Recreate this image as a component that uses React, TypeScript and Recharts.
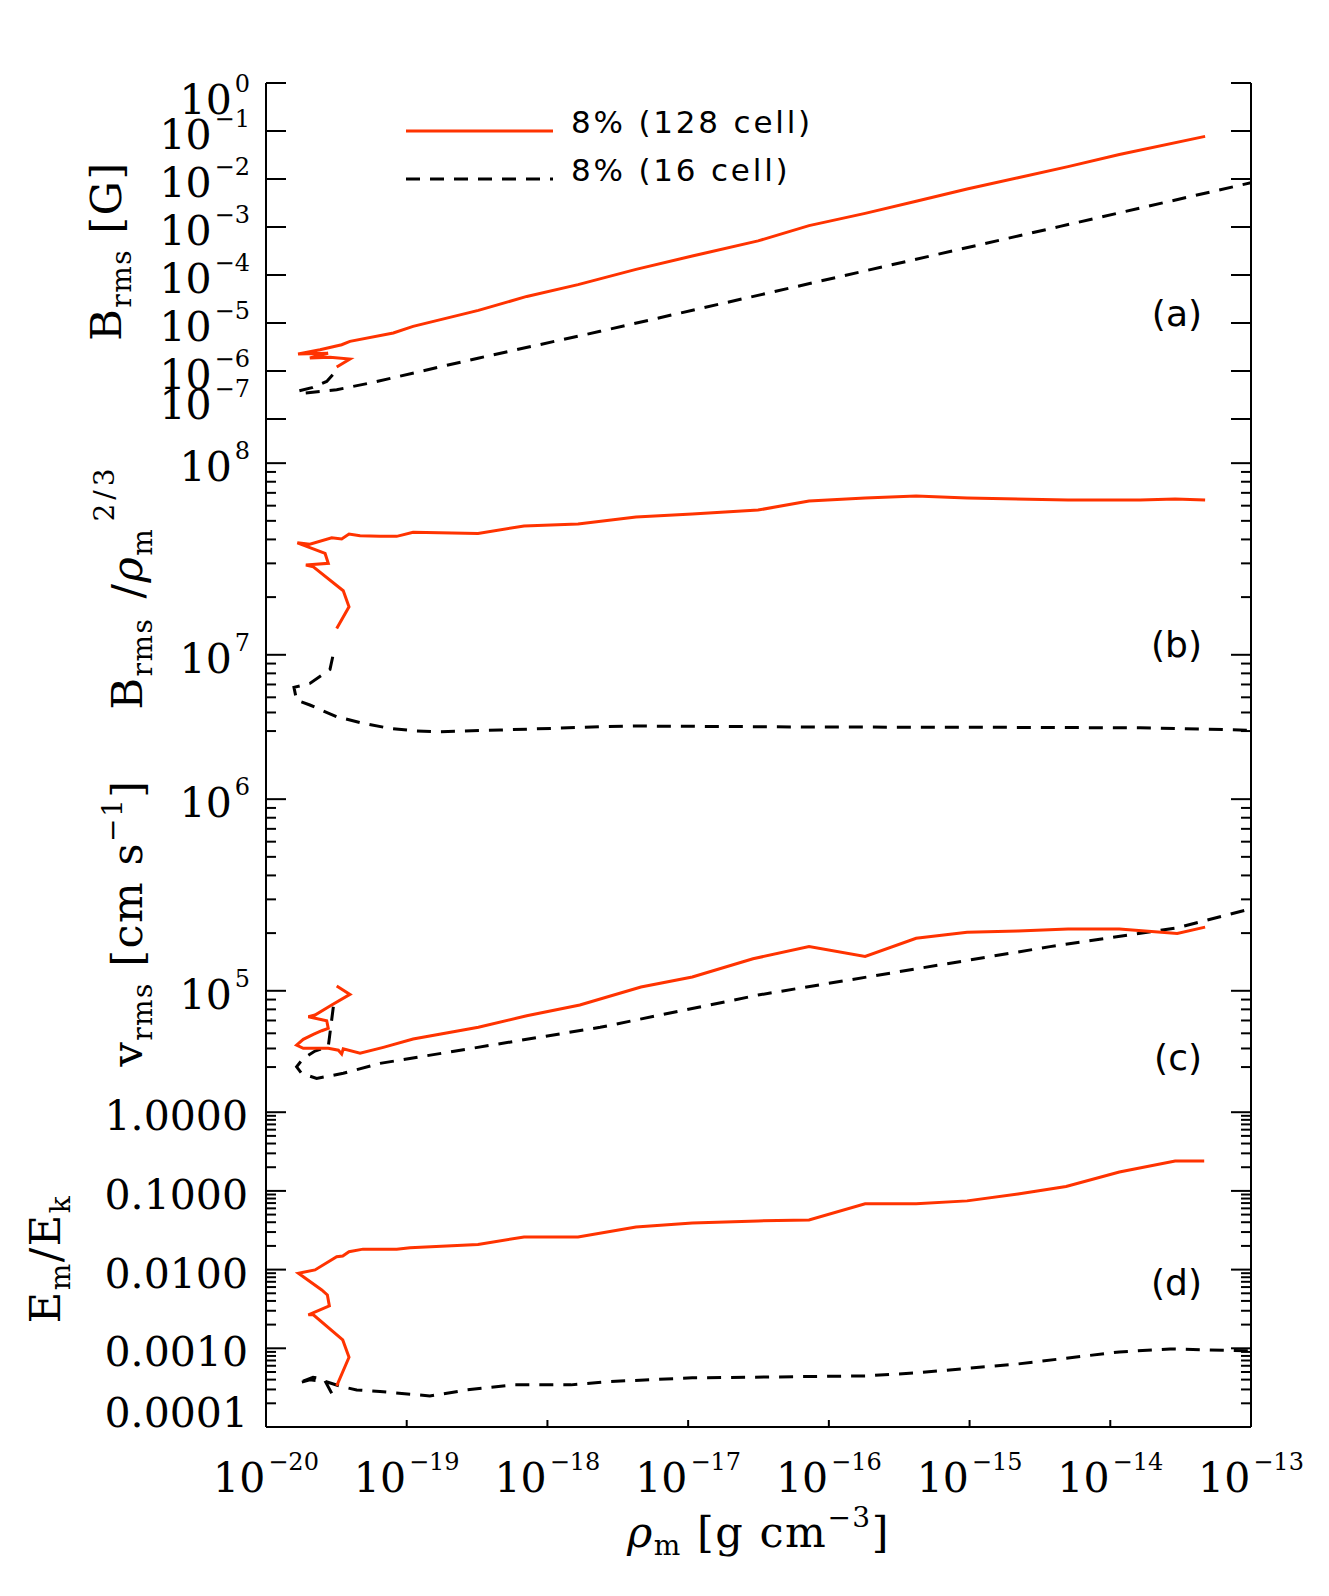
import React from "react";
import { LineChart, Line, XAxis, YAxis, Legend } from "recharts";

const RED = "#ff3300";
const DASH = "14 10";
const SERIF = "'DejaVu Serif', serif";
const SANS = "'DejaVu Sans', sans-serif";

const SERIES_128 = "8% (128 cell)";
const SERIES_16 = "8% (16 cell)";

const X_TICKS = [1e-20, 1e-19, 1e-18, 1e-17, 1e-16, 1e-15, 1e-14, 1e-13];
const X_DOMAIN = [1e-20, 1e-13];

// (a) B_rms [G]
const A_RHO_128 = [3.18e-20, 3.95e-20, 2.85e-20, 2.05e-20, 2.76e-20, 1.69e-20, 2.42e-20, 3.45e-20, 3.95e-20, 8.03e-20, 1.11e-19, 3.23e-19, 7.13e-19, 1.65e-18, 4.26e-18, 1.07e-17, 3.14e-17, 7.23e-17, 1.81e-16, 4.17e-16, 9.6e-16, 2.21e-15, 5.01e-15, 1.16e-14, 4.72e-14];
const A_VAL_128 = [1.21e-6, 1.78e-6, 1.94e-6, 1.87e-6, 2.35e-6, 2.26e-6, 2.78e-6, 3.53e-6, 4.14e-6, 6.19e-6, 8.5e-6, 1.83e-5, 3.58e-5, 6.31e-5, 1.31e-4, 2.48e-4, 5.13e-4, 1.07e-3, 1.92e-3, 3.45e-3, 6.19e-3, 1.06e-2, 1.81e-2, 3.25e-2, 7.72e-2];
const A_RHO_16 = [2.98e-20, 2.7e-20, 2.12e-20, 1.68e-20, 1.89e-20, 3.18e-20, 5.49e-20, 3.21e-19, 2.37e-18, 4.4e-15, 1e-13];
const A_VAL_16 = [8.38e-7, 6.07e-7, 4.49e-7, 3.79e-7, 3.48e-7, 4.07e-7, 5.62e-7, 1.85e-6, 6.71e-6, 1.03e-3, 8.37e-3];
const A_TICKS = [1e-7, 1e-6, 1e-5, 1e-4, 1e-3, 1e-2, 1e-1, 1];

// (b) B_rms / rho^(2/3)
const B_RHO_128 = [3.18e-20, 3.89e-20, 3.54e-20, 2.17e-20, 1.92e-20, 2.77e-20, 2.63e-20, 1.67e-20, 2.05e-20, 2.93e-20, 3.45e-20, 3.89e-20, 4.66e-20, 6.46e-20, 8.49e-20, 1.11e-19, 3.21e-19, 6.82e-19, 1.65e-18, 4.26e-18, 1.07e-17, 3.14e-17, 7.23e-17, 1.81e-16, 4.17e-16, 9.6e-16, 5.01e-15, 1.63e-14, 2.89e-14, 4.72e-14];
const B_VAL_128 = [1.37e7, 1.78e7, 2.16e7, 2.88e7, 2.94e7, 3.0e7, 3.38e7, 3.84e7, 3.78e7, 4.08e7, 4.02e7, 4.27e7, 4.18e7, 4.15e7, 4.15e7, 4.36e7, 4.3e7, 4.7e7, 4.81e7, 5.24e7, 5.43e7, 5.69e7, 6.34e7, 6.58e7, 6.74e7, 6.58e7, 6.42e7, 6.42e7, 6.5e7, 6.42e7];
const B_RHO_16 = [2.98e-20, 2.85e-20, 2.05e-20, 1.58e-20, 1.65e-20, 2.05e-20, 3.18e-20, 4.91e-20, 7.61e-20, 1.18e-19, 1.72e-19, 4.6e-19, 2.37e-18, 4.26e-18, 7.23e-17, 2.21e-15, 1.63e-14, 1e-13];
const B_VAL_16 = [9.77e6, 8.39e6, 7.09e6, 6.76e6, 5.8e6, 5.47e6, 4.75e6, 4.39e6, 4.13e6, 4.0e6, 3.97e6, 4.05e6, 4.21e6, 4.25e6, 4.2e6, 4.18e6, 4.16e6, 4.04e6];
const B_TICKS = [4e6, 5e6, 6e6, 7e6, 8e6, 9e6, 1e7, 2e7, 3e7, 4e7, 5e7, 6e7, 7e7, 8e7, 9e7, 1e8];

// (c) v_rms [cm s^-1]
const C_RHO_128 = [3.18e-20, 3.95e-20, 2.93e-20, 2.23e-20, 2.0e-20, 2.7e-20, 2.77e-20, 2.49e-20, 2.17e-20, 1.84e-20, 1.65e-20, 1.84e-20, 2.77e-20, 3.27e-20, 3.45e-20, 3.54e-20, 4.66e-20, 6.82e-20, 1.11e-19, 3.23e-19, 7.13e-19, 1.7e-18, 4.62e-18, 1.07e-17, 2.89e-17, 7.23e-17, 1.81e-16, 4.17e-16, 9.6e-16, 2.21e-15, 5.01e-15, 1.16e-14, 2.99e-14, 4.72e-14];
const C_VAL_128 = [1.06e5, 9.58e4, 8.43e4, 7.47e4, 7.32e4, 6.98e4, 6.37e4, 6.19e4, 5.93e4, 5.58e4, 5.21e4, 5.01e4, 5.01e4, 4.9e4, 4.68e4, 4.98e4, 4.72e4, 5.07e4, 5.6e4, 6.45e4, 7.41e4, 8.43e4, 1.046e5, 1.18e5, 1.47e5, 1.7e5, 1.51e5, 1.88e5, 2.02e5, 2.05e5, 2.1e5, 2.1e5, 1.99e5, 2.15e5];
const C_RHO_16 = [3.01e-20, 2.77e-20, 2.23e-20, 1.84e-20, 1.65e-20, 1.79e-20, 2.29e-20, 3.54e-20, 6.46e-20, 2.37e-18, 3.14e-17, 3.73e-15, 2.97e-14, 1e-13];
const C_VAL_16 = [8.25e4, 5.11e4, 4.85e4, 4.44e4, 4.01e4, 3.71e4, 3.49e4, 3.71e4, 4.18e4, 6.45e4, 9.5e4, 1.7e5, 2.13e5, 2.68e5];
const C_TICKS = [4e4, 5e4, 6e4, 7e4, 8e4, 9e4, 1e5, 2e5, 3e5, 4e5, 5e5, 6e5, 7e5, 8e5, 9e5, 1e6];

// (d) E_m / E_k
const D_RHO_128 = [3.18e-20, 3.89e-20, 3.51e-20, 2.17e-20, 2.0e-20, 2.82e-20, 2.73e-20, 2.49e-20, 1.7e-20, 2.23e-20, 3.18e-20, 3.51e-20, 3.89e-20, 4.89e-20, 8.49e-20, 1.056e-19, 3.21e-19, 6.82e-19, 1.65e-18, 4.26e-18, 1.07e-17, 3.14e-17, 7.23e-17, 1.81e-16, 4.17e-16, 9.6e-16, 2.21e-15, 4.85e-15, 1.16e-14, 2.89e-14, 4.65e-14];
const D_VAL_128 = [3.33e-4, 7.7e-4, 1.28e-3, 2.66e-3, 2.66e-3, 3.46e-3, 4.77e-3, 5.52e-3, 9.0e-3, 9.9e-3, 1.46e-2, 1.49e-2, 1.69e-2, 1.82e-2, 1.82e-2, 1.9e-2, 2.09e-2, 2.6e-2, 2.6e-2, 3.48e-2, 3.92e-2, 4.16e-2, 4.28e-2, 6.85e-2, 6.85e-2, 7.47e-2, 9.16e-2, 0.114, 0.174, 0.24, 0.24];
const D_RHO_16 = [2.93e-20, 2.58e-20, 2.16e-20, 1.68e-20, 2.05e-20, 2.63e-20, 3.45e-20, 4.41e-20, 6.46e-20, 1.46e-19, 2.68e-19, 5.79e-19, 1.47e-18, 2.74e-18, 1.07e-17, 1.81e-16, 4.17e-16, 2.21e-15, 1.16e-14, 2.66e-14, 1e-13];
const D_VAL_16 = [2.69e-4, 4.09e-4, 4.27e-4, 3.6e-4, 3.97e-4, 3.8e-4, 3.26e-4, 2.96e-4, 2.82e-4, 2.48e-4, 2.96e-4, 3.43e-4, 3.43e-4, 3.78e-4, 4.21e-4, 4.46e-4, 4.87e-4, 6.33e-4, 9.0e-4, 9.82e-4, 9.26e-4];
const D_TICKS = [
  1e-4, 2e-4, 3e-4, 4e-4, 5e-4, 6e-4, 7e-4, 8e-4, 9e-4, 1e-3,
  2e-3, 3e-3, 4e-3, 5e-3, 6e-3, 7e-3, 8e-3, 9e-3, 1e-2,
  2e-2, 3e-2, 4e-2, 5e-2, 6e-2, 7e-2, 8e-2, 9e-2, 0.1,
  0.2, 0.3, 0.4, 0.5, 0.6, 0.7, 0.8, 0.9, 1,
];

// layout
const CHART_W = 1329;
const PLOT_L = 266;
const PLOT_R = 1251;
const PLOT_H = 336;
const PAD = 10;
const TITLE_FS = 43;
const SUB_FS = 28;

const pts = (xs: number[], ys: number[]) => xs.map((x, i) => ({ x, y: ys[i] }));

function isDecade(v: number) {
  const l = Math.log10(v);
  return Math.abs(l - Math.round(l)) < 1e-6;
}

function expText(v: number) {
  const e = Math.round(Math.log10(v));
  return e < 0 ? `\u2212${-e}` : `${e}`;
}

// eslint-disable-next-line @typescript-eslint/no-explicit-any
function YTick(props: any) {
  const { x, y, payload, side, domain, fmt } = props;
  const v = payload.value;
  const major = isDecade(v);
  const dir = side === "left" ? 1 : -1;
  const len = major ? 20 : 10;
  let label = null;
  if (side === "left" && major) {
    const atTop = Math.abs(Math.log10(v / domain[1])) < 1e-6;
    const atBottom = Math.abs(Math.log10(v / domain[0])) < 1e-6;
    const base = atTop ? y + 31 : atBottom ? y : y + 18;
    label = fmt === "fixed" ? (
      <text x={x - 18} y={base} textAnchor="end" fontFamily={SERIF} fontSize={41} fill="#000">
        {v.toFixed(4)}
      </text>
    ) : (
      <text x={x - 16} y={base} textAnchor="end" fontFamily={SERIF} fontSize={41} fill="#000">
        10<tspan dx={3} dy={-22} fontSize={24}>{expText(v)}</tspan>
      </text>
    );
  }
  return (
    <g>
      <line x1={x} y1={y} x2={x + dir * len} y2={y} stroke="#000" strokeWidth={2} />
      {label}
    </g>
  );
}

// eslint-disable-next-line @typescript-eslint/no-explicit-any
function XTick(props: any) {
  const { x, y, payload, side, labels } = props;
  const dir = side === "bottom" ? -1 : 1;
  return (
    <g>
      <line x1={x} y1={y} x2={x} y2={y + dir * 7} stroke="#000" strokeWidth={2} />
      {labels && side === "bottom" && (
        <text x={x} y={y + 65} textAnchor="middle" fontFamily={SERIF} fontSize={41} fill="#000">
          10<tspan dx={3} dy={-22} fontSize={24}>{expText(payload.value)}</tspan>
        </text>
      )}
    </g>
  );
}

// eslint-disable-next-line @typescript-eslint/no-explicit-any
function LegendBox({ payload }: any) {
  const order = [SERIES_128, SERIES_16];
  // eslint-disable-next-line @typescript-eslint/no-explicit-any
  const items = order.map((n) => (payload || []).find((p: any) => p.value === n)).filter(Boolean);
  return (
    <svg width={520} height={100} style={{ display: "block", overflow: "visible" }}>
      {/* eslint-disable-next-line @typescript-eslint/no-explicit-any */}
      {items.map((p: any, i: number) => (
        <g key={p.value}>
          <line x1={0} x2={147} y1={20 + i * 48} y2={20 + i * 48} stroke={p.color}
            strokeWidth={3} strokeDasharray={p.value === SERIES_16 ? DASH : undefined} />
          <text x={165} y={22 + i * 48} fontFamily={SANS} fontSize={31} letterSpacing={2.8} fill="#000">
            {p.value}
          </text>
        </g>
      ))}
    </svg>
  );
}

const TITLE_A = (
  <>B<tspan fontSize={SUB_FS} dy={10}>rms</tspan><tspan dy={-10}> [G]</tspan></>
);
const TITLE_B = (
  <>
    B<tspan fontSize={SUB_FS} dy={10}>rms</tspan>
    <tspan dy={-10} dx={4}> /</tspan><tspan fontStyle="italic">ρ</tspan>
    <tspan fontSize={SUB_FS} dy={10}>m</tspan>
    <tspan fontSize={SUB_FS} dy={-38} dx={6} letterSpacing={4}>2/3</tspan>
  </>
);
const TITLE_C = (
  <>
    v<tspan fontSize={SUB_FS} dy={10}>rms</tspan>
    <tspan dy={-10}> [cm s</tspan><tspan fontSize={SUB_FS} dy={-20}>{"\u22121"}</tspan>
    <tspan dy={20}>]</tspan>
  </>
);
const TITLE_D = (
  <>
    E<tspan fontSize={SUB_FS} dy={10}>m</tspan>
    <tspan dy={-10}>/E</tspan><tspan fontSize={SUB_FS} dy={10}>k</tspan>
  </>
);

const PANELS = [
  { key: "a", top: 0, mt: 83, mb: PAD, domain: [1e-7, 1], ticks: A_TICKS, fmt: "pow", title: TITLE_A, titleX: 121, tag: "(a)", tagY: 232,
    s128: pts(A_RHO_128, A_VAL_128), s16: pts(A_RHO_16, A_VAL_16), legend: true, xlabels: false },
  { key: "b", top: 409, mt: PAD, mb: PAD, domain: [3e6, 1.7e8], ticks: B_TICKS, fmt: "pow", title: TITLE_B, titleX: 142, tag: "(b)", tagY: 227,
    s128: pts(B_RHO_128, B_VAL_128), s16: pts(B_RHO_16, B_VAL_16), legend: false, xlabels: false },
  { key: "c", top: 745, mt: PAD, mb: PAD, domain: [3e4, 1.7e6], ticks: C_TICKS, fmt: "pow", title: TITLE_C, titleX: 142, tag: "(c)", tagY: 304,
    s128: pts(C_RHO_128, C_VAL_128), s16: pts(C_RHO_16, C_VAL_16), legend: false, xlabels: false },
  { key: "d", top: 1081, mt: PAD, mb: 0, domain: [1e-4, 1.86], ticks: D_TICKS, fmt: "fixed", title: TITLE_D, titleX: 60, tag: "(d)", tagY: 193,
    s128: pts(D_RHO_128, D_VAL_128), s16: pts(D_RHO_16, D_VAL_16), legend: false, xlabels: true },
];

const AXIS_LINE = { stroke: "#000", strokeWidth: 2 };

// eslint-disable-next-line @typescript-eslint/no-explicit-any
function Panel({ p }: { p: any }) {
  const bottomH = p.xlabels ? 169 : 0;
  const height = p.mt + PLOT_H + p.mb + bottomH;
  const midY = p.mt + PLOT_H / 2;
  return (
    <div style={{ position: "absolute", left: 0, top: p.top }}>
      <LineChart width={CHART_W} height={height} margin={{ top: p.mt, right: 0, bottom: p.mb, left: 0 }}>
        <XAxis xAxisId="bottom" orientation="bottom" type="number" dataKey="x" scale="log"
          domain={X_DOMAIN} ticks={X_TICKS} interval={0} allowDataOverflow height={bottomH}
          axisLine={AXIS_LINE} tickLine={false} tickSize={0} tickMargin={0}
          tick={(t: object) => <XTick {...t} side="bottom" labels={p.xlabels} />}
          label={p.xlabels ? {
            content: () => (
              <text x={(PLOT_L + PLOT_R) / 2} y={p.mt + PLOT_H + 120} textAnchor="middle"
                fontFamily={SERIF} fontSize={TITLE_FS} letterSpacing={1.5} fill="#000">
                <tspan fontStyle="italic">ρ</tspan><tspan fontSize={SUB_FS} dy={8}>m</tspan>
                <tspan dy={-8}> [g cm</tspan><tspan fontSize={SUB_FS} dy={-20}>{"\u22123"}</tspan>
                <tspan dy={20}>]</tspan>
              </text>
            ),
          } : undefined}
        />
        <XAxis xAxisId="top" orientation="top" type="number" dataKey="x" scale="log"
          domain={X_DOMAIN} ticks={X_TICKS} interval={0} allowDataOverflow height={0}
          axisLine={AXIS_LINE} tickLine={false} tickSize={0} tickMargin={0}
          tick={(t: object) => <XTick {...t} side="top" labels={false} />}
        />
        <YAxis yAxisId="left" orientation="left" type="number" scale="log" width={PLOT_L}
          domain={p.domain} ticks={p.ticks} interval={0} allowDataOverflow
          axisLine={AXIS_LINE} tickLine={false} tickSize={0} tickMargin={0}
          tick={(t: object) => <YTick {...t} side="left" domain={p.domain} fmt={p.fmt} />}
          label={{
            content: () => (
              <text x={p.titleX} y={midY} transform={`rotate(-90 ${p.titleX} ${midY})`}
                textAnchor="middle" fontFamily={SERIF} fontSize={TITLE_FS} letterSpacing={1.5} fill="#000">
                {p.title}
              </text>
            ),
          }}
        />
        <YAxis yAxisId="right" orientation="right" type="number" scale="log" width={CHART_W - PLOT_R}
          domain={p.domain} ticks={p.ticks} interval={0} allowDataOverflow
          axisLine={AXIS_LINE} tickLine={false} tickSize={0} tickMargin={0}
          tick={(t: object) => <YTick {...t} side="right" domain={p.domain} fmt={p.fmt} />}
          label={{
            content: () => (
              <text x={PLOT_R - 49} y={p.mt + p.tagY + 11} textAnchor="end"
                fontFamily={SANS} fontSize={36} fill="#000">
                {p.tag}
              </text>
            ),
          }}
        />
        <Line xAxisId="bottom" yAxisId="left" data={p.s16} dataKey="y" name={SERIES_16}
          stroke="#000" strokeWidth={3} strokeDasharray={DASH} dot={false} activeDot={false}
          isAnimationActive={false} />
        <Line xAxisId="bottom" yAxisId="left" data={p.s128} dataKey="y" name={SERIES_128}
          stroke={RED} strokeWidth={3} dot={false} activeDot={false}
          isAnimationActive={false} />
        {p.legend && (
          <Legend layout="horizontal" verticalAlign="middle" align="center"
            wrapperStyle={{ left: 406, top: 111, width: 520, height: 100 }}
            content={<LegendBox />} />
        )}
      </LineChart>
    </div>
  );
}

export default function App() {
  return (
    <div style={{ position: "absolute", left: 0, top: 0, width: CHART_W, height: 1596, background: "#fff" }}>
      {PANELS.map((p) => <Panel key={p.key} p={p} />)}
    </div>
  );
}
